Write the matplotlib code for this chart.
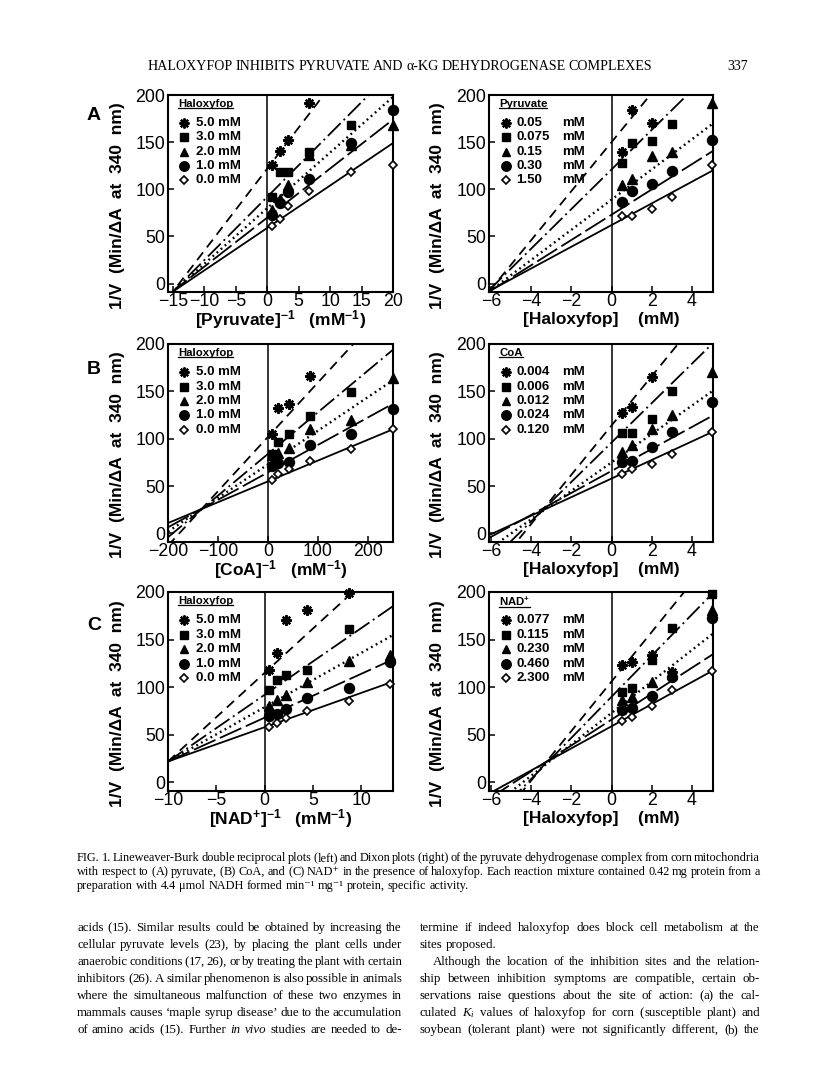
import matplotlib
matplotlib.use("Agg")
import matplotlib.pyplot as plt
import numpy as np

plt.rcParams['font.family'] = ['Liberation Sans', 'DejaVu Sans']
plt.rcParams['mathtext.fontset'] = 'custom'
plt.rcParams['mathtext.rm'] = 'Liberation Sans:bold'
plt.rcParams['mathtext.bf'] = 'Liberation Sans:bold'
plt.rcParams['mathtext.it'] = 'Liberation Serif:italic'
plt.rcParams['mathtext.default'] = 'bf'
plt.rcParams['lines.scale_dashes'] = False

nan = np.nan

# ---------------- data ----------------
# Panel A left: Lineweaver-Burk vs pyruvate
pyr_inv_x = [0.67, 2.0, 3.33, 6.67, 13.33, 20.0]
hal_labels = ["5.0", "3.0", "2.0", "1.0", "0.0"]
pyr_lb_y = [
    [126, 141, 152, 192, nan, nan],
    [92, 118, 118, 139, 168, nan],
    [78, 90, 105, 136, 147, 168],
    [73, 85, 97, 111, 149, 184],
    [61, 68, 82, 98, 118, 126],
]
pyr_lb_intercept = [122, 92, 80, 70, 59]
pyr_lb_slope = [8.7, 6.7, 5.9, 5.2, 4.5]

# Panel A right: Dixon, pyruvate levels
hal_x = [0.5, 1.0, 2.0, 3.0, 5.0]
pyr_labels = ["0.05", "0.075", "0.15", "0.30", "1.50"]
pyr_dx_y = [
    [139, 184, 170, nan, nan],
    [128, 149, 151, 169, nan],
    [104, 111, 135, 139, 191],
    [86, 98, 106, 119, 152],
    [72, 72, 79, 92, 126],
]
pyr_dx_intercept = [150, 121, 89, 73, 62]
pyr_dx_slope = [26, 21, 16, 13.4, 11.5]

# Panel B left: Lineweaver-Burk vs CoA
coa_inv_x = [8.33, 20.83, 41.67, 83.33, 166.67, 250.0]
coa_lb_y = [
    [105, 132, 137, 166, nan, nan],
    [84, 97, 105, 124, 149, nan],
    [83, 85, 90, 110, 120, 164],
    [71, 74, 75, 93, 105, 131],
    [56, 63, 68, 77, 89, 110],
]
coa_lb_intercept = [102, 84, 73, 64.5, 55]
coa_lb_slope = [0.574, 0.44, 0.355, 0.29, 0.22]

# Panel B right: Dixon, CoA levels
coa_labels = ["0.004", "0.006", "0.012", "0.024", "0.120"]
coa_dx_y = [
    [127, 133, 165, nan, nan],
    [106, 106, 121, 150, nan],
    [86, 93, 110, 125, 170],
    [75, 77, 91, 107, 139],
    [63, 68, 73, 84, 107],
]
coa_dx_intercept = [114, 96, 75, 66, 58]
coa_dx_slope = [26, 20.8, 15.0, 11.6, 9.8]

# Panel C left: Lineweaver-Burk vs NAD+
nad_inv_x = [0.43, 1.3, 2.17, 4.35, 8.7, 13.0]
nad_lb_y = [
    [118, 136, 171, 181, 199, nan],
    [97, 108, 113, 118, 161, nan],
    [80, 87, 92, 106, 128, 134],
    [70, 72, 77, 89, 99, 126],
    [58, 62, 68, 75, 85, 103],
]
nad_lb_intercept = [115, 92, 79, 68, 58]
nad_lb_slope = [9.3, 7.0, 5.7, 4.6, 3.6]

# Panel C right: Dixon, NAD+ levels
nad_labels = ["0.077", "0.115", "0.230", "0.460", "2.300"]
nad_dx_y = [
    [123, 126, 134, 116, nan],
    [95, 99, 129, 162, 198],
    [87, 90, 106, 114, 181],
    [76, 78, 91, 111, 173],
    [64, 69, 80, 97, 117],
]
nad_dx_intercept = [106, 90, 73, 66, 59]
nad_dx_slope = [26, 21.6, 16.5, 13.6, 11.6]

y_ticks = [0, 50, 100, 150, 200]
lb_pyr_ticks = [-15, -10, -5, 0, 5, 10, 15, 20]
lb_coa_ticks = [-200, -100, 0, 100, 200]
lb_nad_ticks = [-10, -5, 0, 5, 10]
dixon_ticks = [-6, -4, -2, 0, 2, 4]

# ---------------- styles ----------------
W, H = 816, 1073
fig = plt.figure(figsize=(W / 100, H / 100), dpi=100)
fig.patch.set_facecolor('white')

marker_kw = [
    dict(marker=(8, 2, 0), ms=7.5, mew=1.6, mfc='k', mec='k'),
    dict(marker='s', ms=5.8, mfc='k', mec='k'),
    dict(marker='^', ms=6.8, mfc='k', mec='k'),
    dict(marker='o', ms=7.2, mfc='k', mec='k'),
    dict(marker='D', ms=4.3, mfc='white', mec='k', mew=1.2),
]
line_styles = [(0, (7, 4.5)), (0, (13, 3, 1.4, 3)), (0, (1.3, 2.6)), (0, (17, 3.5)), '-']
line_widths = [1.3, 1.3, 1.7, 1.3, 1.3]

def fmt(v):
    return ("\u2212" + str(abs(v))) if v < 0 else str(v)

legend_titles = []

def panel(rect, x, ys, b0, b1, xlim, xticks, xlabel, title, vals, right):
    l, r, t, b = rect
    ax = fig.add_axes([l / W, 1 - b / H, (r - l) / W, (b - t) / H])
    xl = np.array(xlim, dtype=float)
    for i in range(5):
        ax.plot(xl, b0[i] + b1[i] * xl, color='k', lw=line_widths[i],
                ls=line_styles[i], zorder=2)
        ax.plot(x, ys[i], ls='none', color='k', clip_on=False, zorder=3,
                **marker_kw[i])
    ax.axvline(0, color='k', lw=1.1, zorder=1)
    ax.set_xlim(xlim)
    ax.set_ylim(-9, 200)
    ax.set_xticks(xticks)
    ax.set_xticklabels([fmt(v) for v in xticks])
    ax.set_yticks(y_ticks)
    ax.set_yticklabels([fmt(v) for v in y_ticks])
    ax.tick_params(direction='in', length=4, width=1.1, labelsize=12.8)
    ax.tick_params(axis='x', pad=0.5)
    ax.tick_params(axis='y', pad=2)
    for s in ax.spines.values():
        s.set_linewidth(1.5)
    ax.set_xlabel(xlabel, fontsize=12.5, fontweight='bold', va='center')
    ax.xaxis.set_label_coords(0.5, -0.14)
    ax.set_ylabel("1/V  (Min/\u0394A  at  340  nm)", fontsize=12.5,
                  fontweight='bold', va='center')
    ax.yaxis.set_label_coords(-0.224 if not right else -0.228, 0.44)
    # legend
    if right:
        mx, tx, ux = 0.075, 0.122, 0.328
    else:
        mx, tx, ux = 0.07, 0.126, None
    tt = ax.text(0.045, 0.955, title, transform=ax.transAxes, fontsize=8.2,
                 fontweight='bold', va='center', ha='left')
    legend_titles.append((ax, tt))
    for i, v in enumerate(vals):
        yy = 0.857 - i * 0.0725
        kw = dict(marker_kw[i])
        kw['ms'] = kw['ms'] * 0.95
        ax.plot([mx], [yy], transform=ax.transAxes, clip_on=False, ls='none',
                color='k', **kw)
        if ux is None:
            ax.text(tx, yy, v + " mM", transform=ax.transAxes, fontsize=9.5,
                    fontweight='bold', va='center', ha='left')
        else:
            ax.text(tx, yy, v, transform=ax.transAxes, fontsize=9.5,
                    fontweight='bold', va='center', ha='left')
            ax.text(ux, yy, "mM", transform=ax.transAxes, fontsize=9.5,
                    fontweight='bold', va='center', ha='left')
    return ax

L = (168, 393)
R = (489, 713)
rowA = (95, 292)
rowB = (344, 542)
rowC = (592, 791)
dix_lim = (-6.1, 5.05)

panel((L[0], L[1], rowA[0], rowA[1]), pyr_inv_x, pyr_lb_y, pyr_lb_intercept,
      pyr_lb_slope, (-15.8, 20), lb_pyr_ticks,
      r"[Pyruvate]$^{-1}$   (mM$^{-1}$)", "Haloxyfop", hal_labels, False)
panel((R[0], R[1], rowA[0], rowA[1]), hal_x, pyr_dx_y, pyr_dx_intercept,
      pyr_dx_slope, dix_lim, dixon_ticks, "[Haloxyfop]    (mM)", "Pyruvate",
      pyr_labels, True)
panel((L[0], L[1], rowB[0], rowB[1]), coa_inv_x, coa_lb_y, coa_lb_intercept,
      coa_lb_slope, (-200, 250), lb_coa_ticks,
      r"[CoA]$^{-1}$   (mM$^{-1}$)", "Haloxyfop", hal_labels, False)
panel((R[0], R[1], rowB[0], rowB[1]), hal_x, coa_dx_y, coa_dx_intercept,
      coa_dx_slope, dix_lim, dixon_ticks, "[Haloxyfop]    (mM)", "CoA",
      coa_labels, True)
panel((L[0], L[1], rowC[0], rowC[1]), nad_inv_x, nad_lb_y, nad_lb_intercept,
      nad_lb_slope, (-10, 13.3), lb_nad_ticks,
      r"[NAD$^{+}$]$^{-1}$   (mM$^{-1}$)", "Haloxyfop", hal_labels, False)
panel((R[0], R[1], rowC[0], rowC[1]), hal_x, nad_dx_y, nad_dx_intercept,
      nad_dx_slope, dix_lim, dixon_ticks, "[Haloxyfop]    (mM)", r"NAD$^{+}$",
      nad_labels, True)

for lab, yy in (("A", 115), ("B", 369), ("C", 626)):
    fig.text(94 / W, 1 - yy / H, lab, fontsize=14, fontweight='bold',
             ha='center', va='center')

renderer = fig.canvas.get_renderer()

# underline legend titles
for ax, tt in legend_titles:
    bb = tt.get_window_extent(renderer)
    inv = ax.transAxes.inverted()
    (x0, y0), (x1, y1) = inv.transform([[bb.x0, bb.y0], [bb.x1, bb.y1]])
    ax.plot([x0, x1], [y0 + 0.004, y0 + 0.004], transform=ax.transAxes,
            color='k', lw=0.9, clip_on=False)

SPECIAL = set("\u207a\u207b")


def family_for(word):
    if any(c in SPECIAL for c in word):
        return ['Liberation Serif', 'DejaVu Serif']
    return 'Liberation Serif'


def parse(text):
    """Return a list of words; each word is a list of (piece, style) parts."""
    words = []
    for w in text.split(' '):
        style = 'normal'
        if len(w) > 2 and w.startswith('_') and w.endswith('_'):
            w = w[1:-1]
            style = 'italic'
        parts = []
        if len(w) > 1 and w[0] == '(' and not w.startswith('$'):
            parts.append(('(', style))
            w = w[1:]
        parts.append((w, style))
        words.append(parts)
    return words


def make_piece(w, st, size, y=0.0):
    return fig.text(0, y, w, fontsize=size, family=family_for(w), style=st,
                    va='baseline', ha='left')


def word_width(parts, size):
    tot = 0
    for w, st in parts:
        t = make_piece(w, st, size)
        tot += t.get_window_extent(renderer).width
        t.remove()
    return tot


def fit_size(lines, size, gapfac=0.55):
    s = size
    for text, x0, x1, just in lines:
        if just:
            words = parse(text)
            nat = sum(word_width(p, size) for p in words) + \
                gapfac * 0.25 * size * 100 / 72 * (len(words) - 1)
            s = min(s, size * (x1 - x0) / nat)
    return s


def put_line(text, x0, x1, y, size, justify=True):
    words = parse(text)
    placed = []
    for parts in words:
        objs = [make_piece(w, st, size, 1 - y / H) for w, st in parts]
        ws = [o.get_window_extent(renderer).width for o in objs]
        placed.append((objs, ws))
    total = sum(sum(ws) for _, ws in placed)
    if justify and len(placed) > 1:
        gap = (x1 - x0 - total) / (len(placed) - 1)
    else:
        gap = size * 100 / 72 * 0.25
    pos = x0
    for objs, ws in placed:
        for o, wd in zip(objs, ws):
            o.set_x(pos / W)
            pos += wd
        pos += gap

# header
hdr = "HALOXYFOP INHIBITS PYRUVATE AND \u03b1-KG DEHYDROGENASE COMPLEXES"
hs = fit_size([(hdr, 148, 652, True)], 10.5, 0.8)
put_line(hdr, 148, 652, 70, hs)
fig.text(748 / W, 1 - 70 / H, "337", fontsize=hs, family='Liberation Serif',
         ha='right', va='baseline')

caption = [
    ("FIG. 1. Lineweaver-Burk double reciprocal plots (left) and Dixon plots (right) of the pyruvate dehydrogenase complex from corn mitochondria", True),
    ("with respect to (A) pyruvate, (B) CoA, and (C) NAD\u207a in the presence of haloxyfop. Each reaction mixture contained 0.42 mg protein from a", True),
    ("preparation with 4.4 \u03bcmol NADH formed min\u207b\u00b9 mg\u207b\u00b9 protein, specific activity.", False),
]
cs = fit_size([(t, 77, 760, j) for t, j in caption], 8.8)
for i, (txt, j) in enumerate(caption):
    put_line(txt, 77, 760, 861 + i * 14, cs, j)

left_col = [
    ("acids (15). Similar results could be obtained by increasing the", True),
    ("cellular pyruvate levels (23), by placing the plant cells under", True),
    ("anaerobic conditions (17, 26), or by treating the plant with certain", True),
    ("inhibitors (26). A similar phenomenon is also possible in animals", True),
    ("where the simultaneous malfunction of these two enzymes in", True),
    ("mammals causes \u2018maple syrup disease\u2019 due to the accumulation", True),
    ("of amino acids (15). Further _in_ _vivo_ studies are needed to de-", True),
]
right_col = [
    ("termine if indeed haloxyfop does block cell metabolism at the", True, 420),
    ("sites proposed.", False, 420),
    ("Although the location of the inhibition sites and the relation-", True, 433),
    ("ship between inhibition symptoms are compatible, certain ob-", True, 420),
    ("servations raise questions about the site of action: (a) the cal-", True, 420),
    ("culated $\\mathit{K_i}$ values of haloxyfop for corn (susceptible plant) and", True, 420),
    ("soybean (tolerant plant) were not significantly different, (b) the", True, 420),
]
bs = fit_size([(t, 77, 402, j) for t, j in left_col] +
              [(t, x0, 760, j) for t, j, x0 in right_col], 10.0)
for i, (txt, j) in enumerate(left_col):
    put_line(txt, 77, 402, 931 + i * 17, bs, j)
for i, (txt, j, x0) in enumerate(right_col):
    put_line(txt, x0, 760, 931 + i * 17, bs, j)

fig.savefig("out.png", dpi=100, facecolor='white')
